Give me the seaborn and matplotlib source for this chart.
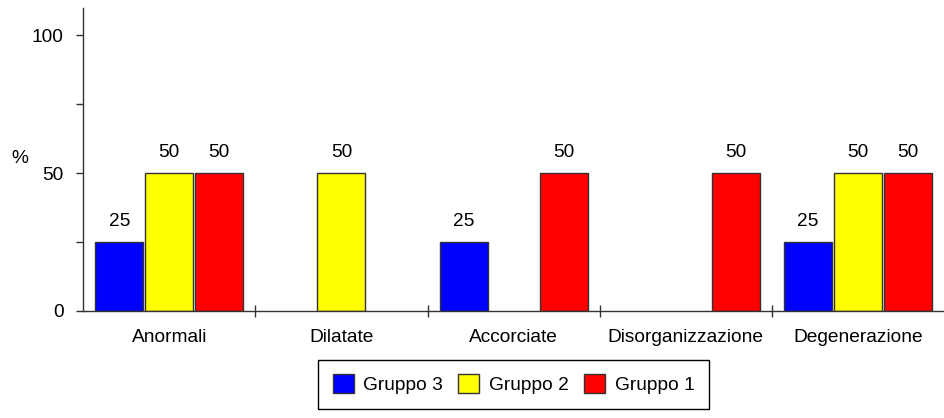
import numpy as np
import pandas as pd
import seaborn as sns
import matplotlib.pyplot as plt
from matplotlib.ticker import MultipleLocator, FixedLocator

# Data (0 = no bar)
categories = ["Anormali", "Dilatate", "Accorciate", "Disorganizzazione", "Degenerazione"]
gruppo3 = [25, 0, 25, 0, 25]
gruppo2 = [50, 50, 0, 0, 50]
gruppo1 = [50, 0, 50, 50, 50]
groups = ["Gruppo 3", "Gruppo 2", "Gruppo 1"]
colors = ["#0000FF", "#FFFF00", "#FF0000"]

df = pd.DataFrame({
    "categoria": categories * 3,
    "gruppo": np.repeat(groups, len(categories)),
    "valore": gruppo3 + gruppo2 + gruppo1,
})
# zero values are not drawn
df["valore"] = df["valore"].replace(0, np.nan)

sns.set_style("white")
plt.rcParams["font.family"] = ["Liberation Sans", "DejaVu Sans"]
plt.rcParams["text.color"] = "black"
plt.rcParams["xtick.color"] = "black"
plt.rcParams["ytick.color"] = "black"
fs = 13.8

fig = plt.figure(figsize=(9.45, 4.18), dpi=100)
ax = fig.add_axes([0.088, 0.256, 0.911, 0.725])

sns.barplot(
    data=df,
    x="categoria",
    y="valore",
    hue="gruppo",
    order=categories,
    hue_order=groups,
    palette=colors,
    saturation=1,
    width=0.87,
    gap=0.04,
    edgecolor="#333333",
    linewidth=1.0,
    ax=ax,
)

for c in ax.containers:
    ax.bar_label(c, fmt="%g", padding=9, fontsize=fs)

ax.set_xlim(-0.5, 4.5)
ax.set_ylim(0, 110)
ax.set_xlabel("")
ax.set_ylabel("")

ax.yaxis.set_major_locator(FixedLocator([0, 50, 100]))
ax.yaxis.set_minor_locator(MultipleLocator(25))
ax.tick_params(axis="y", which="both", direction="out", length=5, width=1,
               color="#333333", pad=9, labelsize=fs, left=True)

ax.xaxis.set_minor_locator(FixedLocator([0.5, 1.5, 2.5, 3.5]))
ax.tick_params(axis="x", which="major", length=0, pad=13, labelsize=fs)
ax.tick_params(axis="x", which="minor", direction="inout", length=9, width=1,
               color="#333333", bottom=True)

sns.despine(ax=ax)
for s in ["left", "bottom"]:
    ax.spines[s].set_color("#333333")
    ax.spines[s].set_linewidth(1.0)

fig.text(0.012, 0.62, "%", fontsize=fs, ha="left", va="center")

leg = ax.legend(
    loc="center",
    bbox_to_anchor=(0.5, -0.242),
    ncol=3,
    frameon=True,
    fancybox=False,
    edgecolor="black",
    framealpha=1,
    fontsize=fs,
    handlelength=1.1,
    handleheight=1.1,
    handletextpad=0.5,
    columnspacing=0.8,
    borderpad=0.75,
    borderaxespad=0,
)
leg.get_frame().set_linewidth(1.0)

fig.savefig("out.png", dpi=100)
